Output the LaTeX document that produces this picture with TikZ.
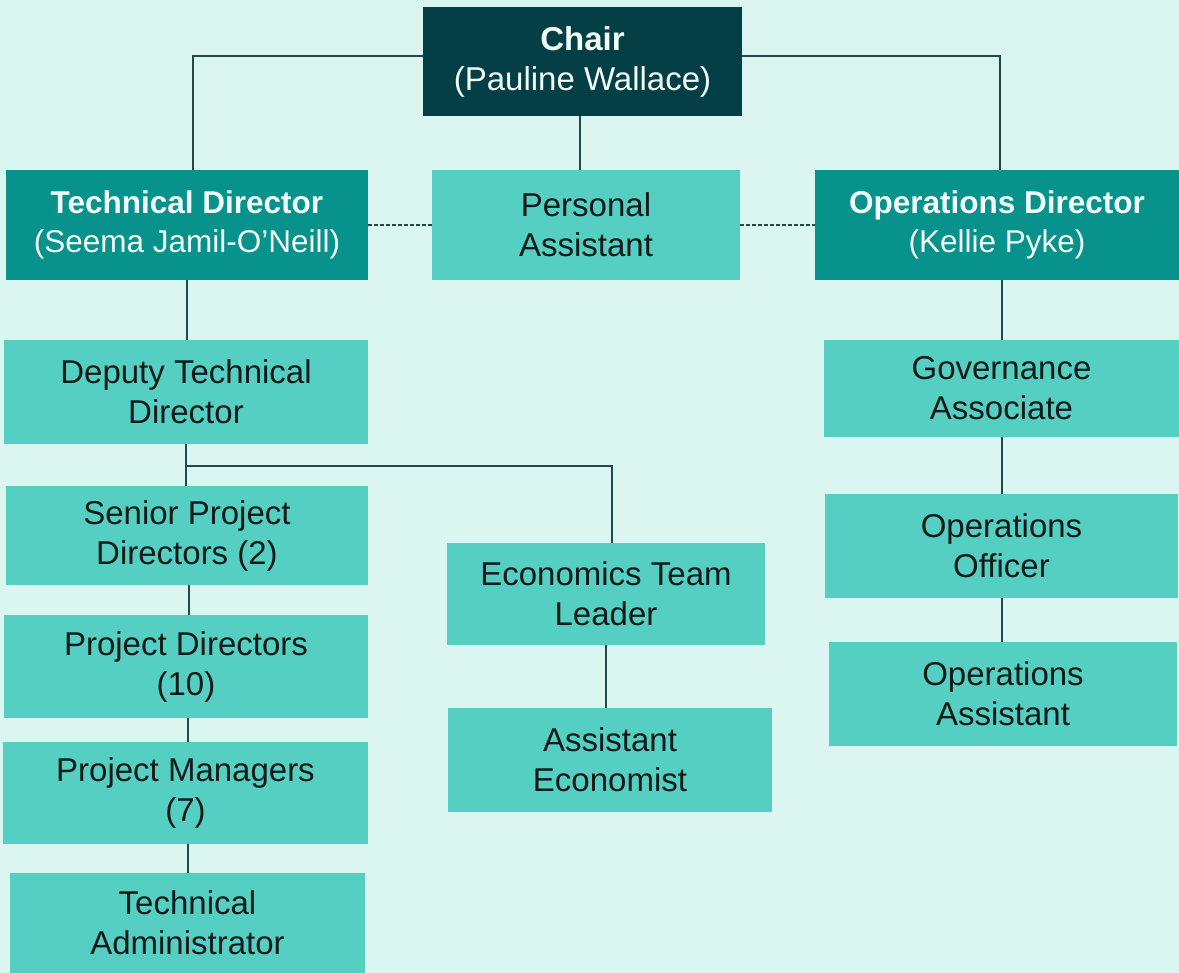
\documentclass[tikz,border=0pt]{standalone}
\usepackage{fontspec}
\setmainfont{Liberation Sans}
\definecolor{bgmint}{HTML}{DBF6F1}
\definecolor{lightbox}{HTML}{55CFC1}
\definecolor{darkbox}{HTML}{07928C}
\definecolor{chairbox}{HTML}{043F46}
\definecolor{linecol}{HTML}{1F4A4C}
\definecolor{textdark}{HTML}{111A1A}
\definecolor{textlight}{HTML}{F2FFFC}
\tikzset{
  unit/.style={rectangle, inner sep=0pt, align=center, font=\fontsize{33}{40}\selectfont},
  staff/.style={unit, fill=lightbox, text=textdark},
  director/.style={unit, fill=darkbox, text=textlight, font=\fontsize{31.5}{39}\selectfont},
  chairunit/.style={unit, fill=chairbox, text=textlight},
  link/.style={draw=linecol, line width=2pt},
  dotted link/.style={draw=linecol, line width=2.2pt, dash pattern=on 4pt off 2pt}
}
% place a box from its corner coordinates (x1,y1)-(x2,y2)
\newcommand{\orgbox}[7]{%
  \node[#6, minimum width={#4-#2}, minimum height={#5-#3}] (#1) at ({(#2+#4)/2},{(#3+#5)/2}) {#7};}
\begin{document}
\begin{tikzpicture}[x=1pt,y=-1pt]
\fill[bgmint] (0,0) rectangle (1179,973);
\useasboundingbox (0,0) rectangle (1179,973);

\orgbox{chair}{423}{7}{742}{116}{chairunit}{\textbf{Chair}\\(Pauline Wallace)}
\orgbox{td}{6}{170}{368}{280}{director}{\textbf{Technical Director}\\(Seema Jamil-O’Neill)}
\orgbox{pa}{432}{170}{740}{280}{staff}{Personal\\Assistant}
\orgbox{od}{815}{170}{1179}{280}{director}{\textbf{Operations Director}\\(Kellie Pyke)}

\orgbox{dtd}{4}{340}{368}{444}{staff}{Deputy Technical\\Director}
\orgbox{spd}{6}{486}{368}{585}{staff}{Senior Project\\Directors (2)}
\orgbox{pd}{4}{615}{368}{718}{staff}{Project Directors\\(10)}
\orgbox{pm}{3}{742}{368}{844}{staff}{Project Managers\\(7)}
\orgbox{ta}{10}{873}{365}{973}{staff}{Technical\\Administrator}

\orgbox{etl}{447}{543}{765}{645}{staff}{Economics Team\\Leader}
\orgbox{ae}{448}{708}{772}{812}{staff}{Assistant\\Economist}

\orgbox{ga}{824}{340}{1179}{437}{staff}{Governance\\Associate}
\orgbox{oo}{825}{494}{1178}{598}{staff}{Operations\\Officer}
\orgbox{oa}{829}{642}{1177}{746}{staff}{Operations\\Assistant}

\coordinate (branch) at (0,466);

% reporting lines
\draw[link] ([yshift=5pt]chair.west) -| ([xshift=6pt]td.north);
\draw[link] ([yshift=5pt]chair.east) -| ([xshift=3pt]od.north);
\draw[link] ([xshift=-3pt]chair.south) -- ([xshift=-3pt]chair.south |- pa.north);
\draw[dotted link] (td.east) -- (pa.west);
\draw[dotted link] (pa.east) -- (od.west);

\draw[link] (td.south) -- (td.south |- dtd.north);
\draw[link] (dtd.south) -- (dtd.south |- spd.north);
\draw[link] (dtd.south |- branch) -| ([xshift=6pt]etl.north);
\draw[link] ([xshift=2pt]spd.south) -- ([xshift=2pt]spd.south |- pd.north);
\draw[link] ([xshift=2pt]pd.south) -- ([xshift=2pt]pd.south |- pm.north);
\draw[link] ([xshift=2pt]pm.south) -- ([xshift=2pt]pm.south |- ta.north);
\draw[link] (etl.south) -- (etl.south |- ae.north);

\draw[link] (ga.north |- od.south) -- (ga.north);
\draw[link] (ga.south) -- (ga.south |- oo.north);
\draw[link] (oo.south) -- (oo.south |- oa.north);
\end{tikzpicture}
\end{document}
